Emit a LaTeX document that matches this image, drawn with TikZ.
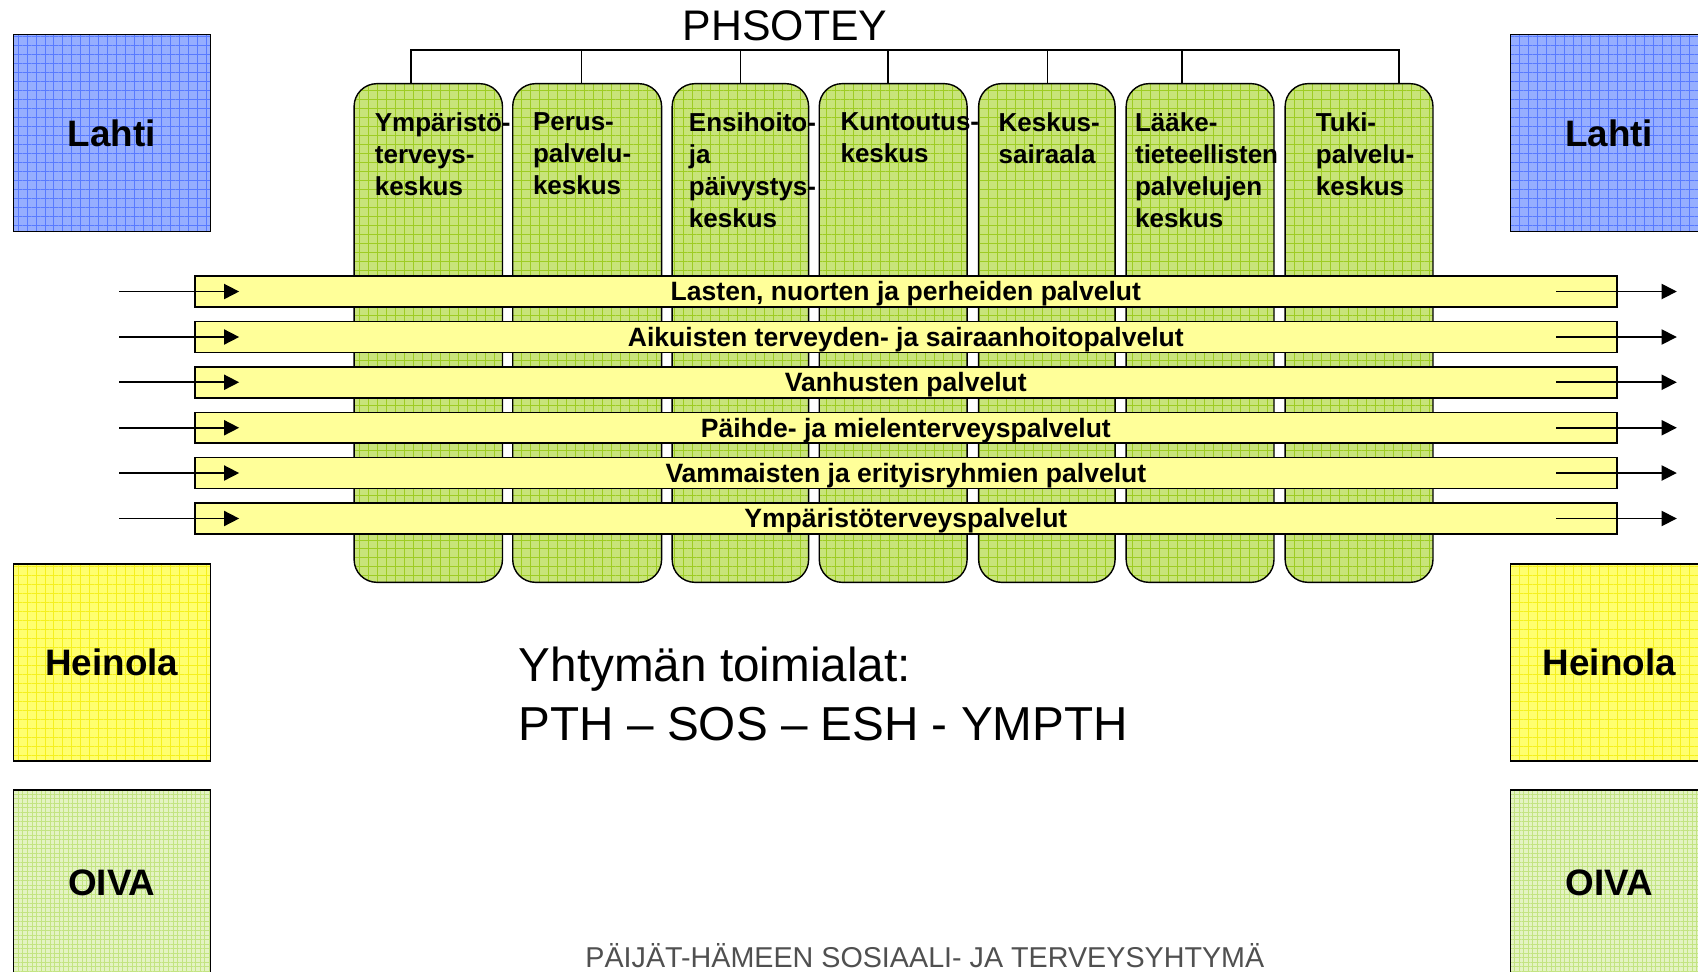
\documentclass[tikz,border=0pt]{standalone}
\usepackage{fontspec}
\setmainfont{Liberation Sans}
\usepackage{tikz}
\usetikzlibrary{arrows.meta}
\usetikzlibrary{patterns.meta}

\definecolor{lahtiblue}{RGB}{150,174,255}
\definecolor{lahtigrid}{RGB}{88,122,255}
\definecolor{heinolayellow}{RGB}{255,255,110}
\definecolor{heinolagrid}{RGB}{245,240,30}
\definecolor{oivagreen}{RGB}{228,243,195}
\definecolor{oivagrid}{RGB}{195,228,130}
\definecolor{unitgreen}{RGB}{200,228,122}
\definecolor{unitgrid}{RGB}{158,204,36}
\definecolor{flowyellow}{RGB}{255,255,153}
\definecolor{footgray}{RGB}{80,80,80}

\begin{document}
\begin{tikzpicture}[x=1pt, y=-1pt,
    town/.style={draw, line width=1.4pt, minimum width=182pt, minimum height=182pt, inner sep=0pt, font=\fontsize{34}{40}\selectfont\bfseries},
    lahti/.style={town, preaction={fill=lahtiblue}, pattern={Hatch[distance=8.3pt, line width=0.8pt]}, pattern color=lahtigrid},
    heinola/.style={town, preaction={fill=heinolayellow}, pattern={Hatch[distance=8.3pt, line width=0.8pt]}, pattern color=heinolagrid},
    oiva/.style={town, minimum height=171pt, preaction={fill=oivagreen}, pattern={Hatch[distance=4.2pt, line width=0.6pt]}, pattern color=oivagrid},
    unit/.style={draw, line width=1.3pt, preaction={fill=unitgreen}, pattern={Hatch[distance=8.3pt, line width=0.8pt]}, pattern color=unitgrid, rounded corners=21pt, minimum height=460.5pt, inner sep=0pt},
    unittext/.style={anchor=north west, inner sep=0pt, align=left, font=\fontsize{24}{29.6}\selectfont\bfseries},
    flow/.style={draw, line width=1.5pt, fill=flowyellow, minimum width=1313pt, minimum height=28.5pt, inner sep=0pt, text height=21pt, text depth=3.5pt, font=\fontsize{24.5}{28}\selectfont\bfseries},
    flowarrow/.style={line width=1.5pt, -{Triangle[length=14pt, width=14pt]}},
    busline/.style={line width=1.8pt},
    busdrop/.style={line width=1.2pt}]
    \useasboundingbox (0,0) rectangle (1568,897);
    \clip (0,0) rectangle (1568,897);
    \fill[white] (0,0) rectangle (1568,897);

    \node (phsotey) at (725,37.6) [anchor=base, inner sep=0pt, font=\fontsize{39.5}{44}\selectfont] {PHSOTEY};

    \node (lahtiL) at (103.25,122.7) [lahti] {Lahti};
    \node (lahtiR) at (1486,122.7) [lahti] {Lahti};
    \node (heinolaL) at (103.25,611.6) [heinola] {Heinola};
    \node (heinolaR) at (1486,611.6) [heinola] {Heinola};
    \node (oivaL) at (103.25,815) [oiva] {OIVA};
    \node (oivaR) at (1486,815) [oiva] {OIVA};

    \node (u1) at (395.5,307.5) [unit, minimum width=137pt] {};
    \node (u2) at (542.2,307.5) [unit, minimum width=137.5pt] {};
    \node (u3) at (683.7,307.5) [unit, minimum width=126pt] {};
    \node (u4) at (824.8,307.5) [unit, minimum width=136.5pt] {};
    \node (u5) at (966.7,307.5) [unit, minimum width=126pt] {};
    \node (u6) at (1108.2,307.5) [unit, minimum width=136.5pt] {};
    \node (u7) at (1255,307.5) [unit, minimum width=136.5pt] {};

    \node (t1) at (346,104) [unittext] {Ympäristö-\\terveys-\\keskus};
    \node (t2) at (492,104) [unittext] {Perus-\\palvelu-\\keskus};
    \node (t3) at (636,104) [unittext] {Ensihoito-\\ja\\päivystys-\\keskus};
    \node (t4) at (776,104) [unittext] {Kuntoutus-\\keskus};
    \node (t5) at (922,104) [unittext] {Keskus-\\sairaala};
    \node (t6) at (1048,104) [unittext] {Lääke-\\tieteellisten\\palvelujen\\keskus};
    \node (t7) at (1215,104) [unittext] {Tuki-\\palvelu-\\keskus};

    \coordinate (busL) at (379.5,46);
    \coordinate (busR) at (1291.5,46);
    \draw[busline] (u1.north -| busL) |- (busR) -- (busR |- u7.north);
    \coordinate (drop2) at (537,46);
    \coordinate (drop3) at (683.5,46);
    \coordinate (drop4) at (820,46);
    \coordinate (drop5) at (967,46);
    \coordinate (drop6) at (1091.6,46);
    \draw[busdrop] (drop2) -- (drop2 |- u2.north);
    \draw[busdrop] (drop3) -- (drop3 |- u3.north);
    \draw[busdrop] (drop4) -- (drop4 |- u4.north);
    \draw[busdrop] (drop5) -- (drop5 |- u5.north);
    \draw[busdrop] (drop6) -- (drop6 |- u6.north);

    \node (f1) at (836.5,269.2) [flow] {Lasten, nuorten ja perheiden palvelut};
    \node (f2) at (836.5,311.2) [flow] {Aikuisten terveyden- ja sairaanhoitopalvelut};
    \node (f3) at (836.5,353) [flow] {Vanhusten palvelut};
    \node (f4) at (836.5,395) [flow] {Päihde- ja mielenterveyspalvelut};
    \node (f5) at (836.5,436.8) [flow] {Vammaisten ja erityisryhmien palvelut};
    \node (f6) at (836.5,478.8) [flow] {Ympäristöterveyspalvelut};

    \coordinate (in1) at (110,269.2);
    \coordinate (in2) at (110,311.2);
    \coordinate (in3) at (110,353);
    \coordinate (in4) at (110,395);
    \coordinate (in5) at (110,436.8);
    \coordinate (in6) at (110,478.8);
    \draw[flowarrow] (in1) -- ([xshift=41.6pt]f1.west);
    \draw[flowarrow] (in2) -- ([xshift=41.6pt]f2.west);
    \draw[flowarrow] (in3) -- ([xshift=41.6pt]f3.west);
    \draw[flowarrow] (in4) -- ([xshift=41.6pt]f4.west);
    \draw[flowarrow] (in5) -- ([xshift=41.6pt]f5.west);
    \draw[flowarrow] (in6) -- ([xshift=41.6pt]f6.west);

    \coordinate (out1) at (1548.4,269.2);
    \coordinate (out2) at (1548.4,311.2);
    \coordinate (out3) at (1548.4,353);
    \coordinate (out4) at (1548.4,395);
    \coordinate (out5) at (1548.4,436.8);
    \coordinate (out6) at (1548.4,478.8);
    \draw[flowarrow] ([xshift=-56.5pt]f1.east) -- (out1);
    \draw[flowarrow] ([xshift=-56.5pt]f2.east) -- (out2);
    \draw[flowarrow] ([xshift=-56.5pt]f3.east) -- (out3);
    \draw[flowarrow] ([xshift=-56.5pt]f4.east) -- (out4);
    \draw[flowarrow] ([xshift=-56.5pt]f5.east) -- (out5);
    \draw[flowarrow] ([xshift=-56.5pt]f6.east) -- (out6);

    \node (toimialat) at (479,597) [anchor=north west, inner sep=0pt, align=left, font=\fontsize{44}{54.6}\selectfont] {Yhtymän toimialat:\\PTH – SOS – ESH - YMPTH};

    \node (footer) at (854,893) [anchor=base, inner sep=0pt, text=footgray, font=\fontsize{26.5}{30}\selectfont] {PÄIJÄT-HÄMEEN SOSIAALI- JA TERVEYSYHTYMÄ};
\end{tikzpicture}
\end{document}
